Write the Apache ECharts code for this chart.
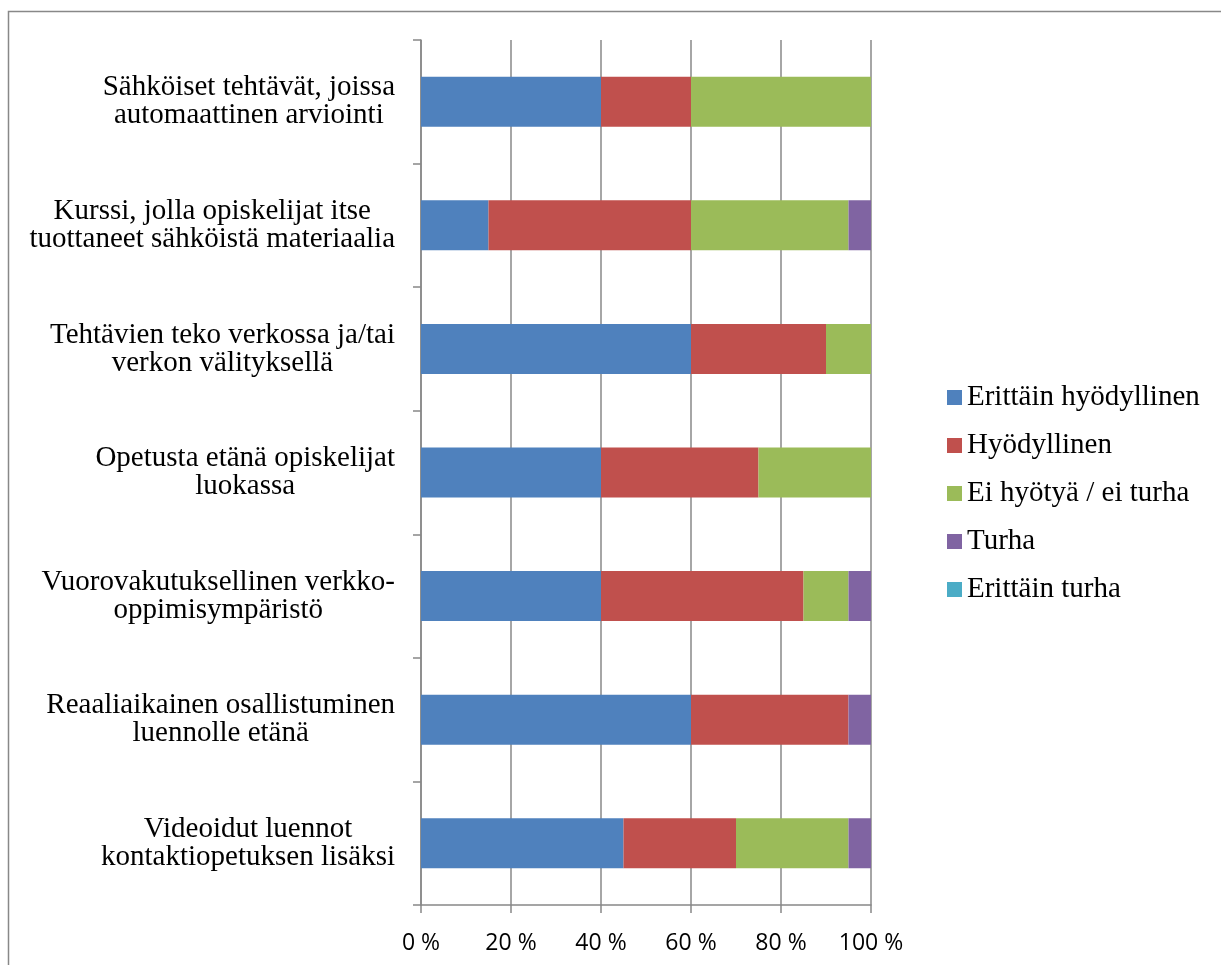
<!DOCTYPE html>
<html>
<head>
<meta charset="utf-8">
<style>
  html, body { margin: 0; padding: 0; background: #fff; }
  #chart { width: 1221px; height: 965px; }
</style>
<script src="https://cdn.jsdelivr.net/npm/echarts@6/dist/echarts.min.js"></script>
</head>
<body>
<div id="chart"></div>
<script>
// Survey items, listed from top to bottom
const categories = [
  'Sähköiset tehtävät, joissa\nautomaattinen arviointi',
  'Kurssi, jolla opiskelijat itse\ntuottaneet sähköistä materiaalia',
  'Tehtävien teko verkossa ja/tai\nverkon välityksellä',
  'Opetusta etänä opiskelijat\nluokassa',
  'Vuorovakutuksellinen verkko-\noppimisympäristö',
  'Reaaliaikainen osallistuminen\nluennolle etänä',
  'Videoidut luennot\nkontaktiopetuksen lisäksi'
];

const seriesNames = ['Erittäin hyödyllinen', 'Hyödyllinen', 'Ei hyötyä / ei turha', 'Turha', 'Erittäin turha'];

// Share of answers (%) per item
const erittainHyodyllinen = [40, 15, 60, 40, 40, 60, 45];
const hyodyllinen         = [20, 45, 30, 35, 45, 35, 25];
const eiHyotyaEiTurha     = [40, 35, 10, 25, 10,  0, 25];
const turha               = [ 0,  5,  0,  0,  5,  5,  5];
const erittainTurha       = [ 0,  0,  0,  0,  0,  0,  0];

const xTicks = [0, 20, 40, 60, 80, 100];

const colors = ['#4F81BD', '#C0504D', '#9BBB59', '#8064A2', '#4BACC6'];
const valueSets = [erittainHyodyllinen, hyodyllinen, eiHyotyaEiTurha, turha, erittainTurha];

const gray = '#888888';
const serif = 'Liberation Serif';

const chart = echarts.init(document.getElementById('chart'), null, { renderer: 'canvas' });

chart.setOption({
  animation: false,
  color: colors,
  graphic: [{
    type: 'rect',
    shape: { x: 8.5, y: 11.5, width: 1400, height: 1100 },
    style: { fill: 'none', stroke: gray, lineWidth: 1.5 },
    silent: true
  }],
  grid: { left: 421, right: 350, top: 40, bottom: 60, containLabel: false },
  legend: {
    orient: 'vertical',
    left: 942,
    top: 378,
    itemWidth: 15,
    itemHeight: 15,
    itemGap: 19,
    icon: 'rect',
    data: seriesNames,
    textStyle: { fontFamily: serif, fontSize: 29, color: '#000' }
  },
  xAxis: {
    type: 'value',
    min: xTicks[0],
    max: xTicks[xTicks.length - 1],
    interval: 20,
    axisLine: { show: true, lineStyle: { color: gray, width: 1.5 } },
    axisTick: { show: true, length: 8, lineStyle: { color: gray, width: 1.5 } },
    splitLine: { show: true, lineStyle: { color: gray, width: 1.5 } },
    axisLabel: {
      margin: 27,
      fontFamily: 'Open Sans',
      fontSize: 23,
      color: '#000',
      formatter: v => v + ' %'
    }
  },
  yAxis: {
    type: 'category',
    inverse: true,
    data: categories,
    axisLine: { show: true, lineStyle: { color: gray, width: 1.5 } },
    axisTick: { show: true, length: 8, lineStyle: { color: gray, width: 1.5 } },
    axisLabel: {
      margin: 26,
      align: 'right',
      color: '#000',
      fontFamily: serif,
      fontSize: 29,
      formatter: v => v.split('\n').map(s => '{c|' + s + '}').join('\n'),
      rich: {
        c: { fontFamily: serif, fontSize: 29, lineHeight: 28, align: 'center', color: '#000' }
      }
    }
  },
  series: seriesNames.map((name, i) => ({
    name: name,
    type: 'bar',
    stack: 'total',
    barWidth: 50,
    data: valueSets[i],
    itemStyle: { color: colors[i] }
  }))
});
</script>
</body>
</html>
